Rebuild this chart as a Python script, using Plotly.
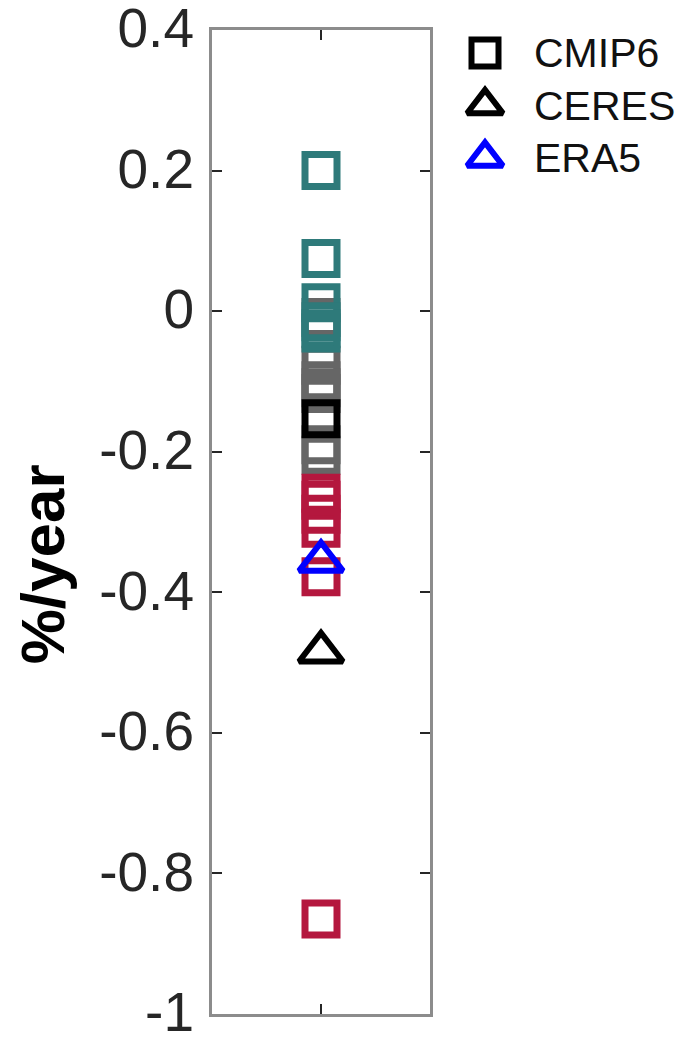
import plotly.graph_objects as go

# Trend values (%/year) for individual CMIP6 models, grouped by colour
teal_vals = [0.200, 0.075, 0.012, -0.015, -0.025, -0.031]
gray_vals = [-0.009, -0.077, -0.099, -0.109, -0.117, -0.190, -0.205]
red_vals = [-0.259, -0.269, -0.289, -0.309, -0.378, -0.865]

# Ensemble mean and observational / reanalysis estimates
cmip6_mean = [-0.153]
ceres_val = [-0.485]
era5_val = [-0.356]

y_ticks = [0.4, 0.2, 0, -0.2, -0.4, -0.6, -0.8, -1]
y_tick_text = ["0.4", "0.2", "0", "-0.2", "-0.4", "-0.6", "-0.8", "-1"]

# Legend entries
legend_names = ["CMIP6", "CERES", "ERA5"]
legend_symbols = ["square-open", "triangle-up-open", "triangle-up-open"]
legend_colors = ["black", "black", "#0000FF"]
legend_sizes = [27, 31, 31]

TEAL = "#2E7A7A"
GRAY = "#666666"
RED = "#B4173E"

SQ_SIZE = 32
SQ_LW = 7
TRI_SIZE = 38
TRI_LW = 6

FONT = "Liberation Sans, Arial, sans-serif"


def model_trace(vals, color):
    return go.Scatter(
        x=[1] * len(vals), y=vals, mode="markers", showlegend=False,
        marker=dict(symbol="square-open", size=SQ_SIZE, color=color,
                    line=dict(width=SQ_LW, color=color)),
        hoverinfo="y",
    )


fig = go.Figure()
fig.add_trace(model_trace(gray_vals, GRAY))
fig.add_trace(model_trace(teal_vals, TEAL))
fig.add_trace(model_trace(red_vals, RED))

fig.add_trace(go.Scatter(
    x=[1], y=cmip6_mean, mode="markers", name="CMIP6", showlegend=False,
    marker=dict(symbol="square-open", size=SQ_SIZE, color="black",
                line=dict(width=SQ_LW, color="black")),
))
fig.add_trace(go.Scatter(
    x=[1], y=ceres_val, mode="markers", name="CERES", showlegend=False,
    marker=dict(symbol="triangle-up-open", size=TRI_SIZE, color="black",
                line=dict(width=TRI_LW, color="black")),
))
fig.add_trace(go.Scatter(
    x=[1], y=era5_val, mode="markers", name="ERA5", showlegend=False,
    marker=dict(symbol="triangle-up-open", size=TRI_SIZE, color="#0000FF",
                line=dict(width=TRI_LW, color="#0000FF")),
))

# Legend keys drawn on a small auxiliary axis to the right of the plot
legend_annots = []
for row, (name, sym, col, sz) in enumerate(
        zip(legend_names, legend_symbols, legend_colors, legend_sizes)):
    fig.add_trace(go.Scatter(
        x=[37.5], y=[row], mode="markers", showlegend=False,
        xaxis="x2", yaxis="y2", hoverinfo="skip",
        marker=dict(symbol=sym, size=sz, color=col, opacity=1,
                    line=dict(width=6, color=col)),
    ))
    legend_annots.append(dict(
        text=name, x=84.5, y=row, xref="x2", yref="y2", xanchor="left",
        yanchor="middle", showarrow=False,
        font=dict(size=41, color="#111111", family=FONT)))

axis_line = "#8C8C8C"
tick_col = "#262626"
eps = 1e-4
plot_w = 683 - 212

fig.update_layout(
    width=683, height=1040,
    margin=dict(l=212, r=0, t=30, b=26, autoexpand=False),
    paper_bgcolor="white", plot_bgcolor="rgba(0,0,0,0)",
    font=dict(family=FONT, color=tick_col),
    showlegend=False,
    xaxis=dict(
        domain=[0, 218 / plot_w],
        range=[0, 2], tickvals=[1], ticktext=[""], ticks="inside",
        ticklen=10, tickwidth=2, tickcolor=tick_col,
        showline=True, linecolor=axis_line, linewidth=3, mirror="ticks",
        showgrid=False, zeroline=False, fixedrange=True,
    ),
    yaxis=dict(
        range=[-1 - eps, 0.4 + eps], tickvals=y_ticks, ticktext=y_tick_text,
        ticks="inside", ticklen=10, tickwidth=2, tickcolor=tick_col,
        tickfont=dict(size=55, color=tick_col), ticklabelstandoff=4,
        ticklabelshift=-2, ticklabeloverflow="allow",
        showline=True, linecolor=axis_line, linewidth=3, mirror="ticks",
        showgrid=False, zeroline=False, fixedrange=True,
    ),
    xaxis2=dict(domain=[0.5, 1.0], anchor="y2", range=[0, 235.5],
                visible=False, fixedrange=True),
    yaxis2=dict(domain=[0.8, 1.0], anchor="x2", range=[3.31, -0.438],
                visible=False, fixedrange=True),
    annotations=[dict(
        text="<b>%/year</b>", textangle=-90, showarrow=False,
        xref="paper", yref="paper", x=(42 - 212) / plot_w, y=0.457,
        xanchor="center", yanchor="middle",
        font=dict(size=62, color="black", family=FONT),
    )] + legend_annots,
)

fig.write_html("out.html")
